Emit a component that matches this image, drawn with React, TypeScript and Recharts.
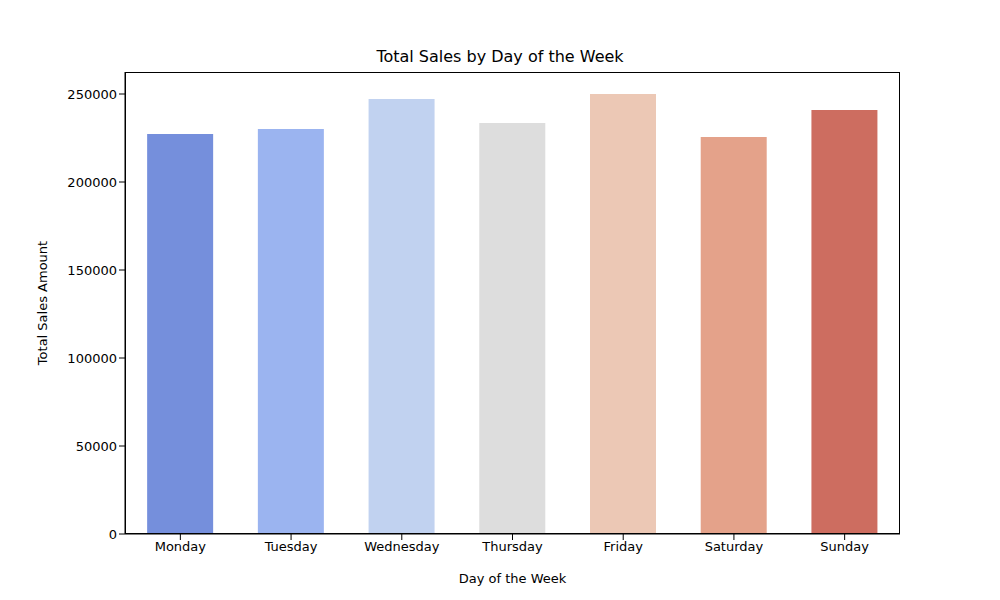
import React from 'react'
import { BarChart, Bar, XAxis, YAxis, Cell } from 'recharts'

const days = ['Monday', 'Tuesday', 'Wednesday', 'Thursday', 'Friday', 'Saturday', 'Sunday']
const sales = [227300, 230100, 247200, 233500, 250000, 225600, 240900]
const colors = ['#758fdc', '#9bb4f0', '#c1d2f0', '#dddddd', '#ecc8b5', '#e4a28a', '#cd6d60']
const yTicks = [0, 50000, 100000, 150000, 200000, 250000]

const data = days.map((day, i) => ({ day, sales: sales[i] }))
const font = 'DejaVu Sans, sans-serif'

export default function App() {
  return (
    <div style={{ position: 'absolute', left: 0, top: 0, width: 1000, height: 600, background: '#fff', fontFamily: font }}>
      <div style={{ position: 'absolute', top: 47, width: 1000, textAlign: 'center', fontSize: 16 }}>
        Total Sales by Day of the Week
      </div>
      <BarChart
        width={1000}
        height={600}
        data={data}
        barCategoryGap="20%"
        margin={{ top: 72, right: 100, bottom: 0, left: 0 }}
      >
        <XAxis
          dataKey="day"
          height={66}
          stroke="#000"
          tick={{ fill: '#000', fontSize: 13, fontFamily: font }}
          tickLine={{ stroke: '#000' }}
          label={{ value: 'Day of the Week', position: 'insideBottom', offset: 17, fill: '#000', fontSize: 13, fontFamily: font }}
        />
        <YAxis
          width={125}
          domain={[0, 262500]}
          ticks={yTicks}
          stroke="#000"
          tick={{ fill: '#000', fontSize: 13, fontFamily: font }}
          tickLine={{ stroke: '#000' }}
          label={{ value: 'Total Sales Amount', angle: -90, position: 'insideLeft', offset: 42, fill: '#000', fontSize: 13, fontFamily: font, style: { textAnchor: 'middle' } }}
        />
        <Bar dataKey="sales" isAnimationActive={false}>
          {data.map((d, i) => (
            <Cell key={d.day} fill={colors[i]} />
          ))}
        </Bar>
      </BarChart>
      <div style={{ position: 'absolute', left: 125, top: 72, width: 775, height: 462, border: '1px solid #000', boxSizing: 'border-box', pointerEvents: 'none' }} />
    </div>
  )
}
